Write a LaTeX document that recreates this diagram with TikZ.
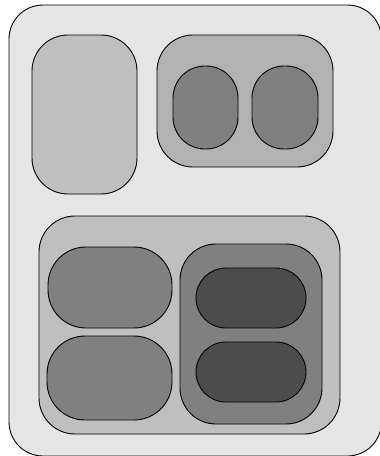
\documentclass[tikz,border=0pt]{standalone}
\begin{document}
\begin{tikzpicture}[x=1pt,y=-1pt,
  box/.style={draw=black, line width=0.9pt, inner sep=0pt, outer sep=0pt}]
\useasboundingbox (0,0) rectangle (380,456);
\node[box, fill=black!10, minimum width=372.5pt, minimum height=451pt, rounded corners=34pt] (outer) at (195.25,230.5) {};
\node[box, fill=black!25, minimum width=105pt, minimum height=159pt, rounded corners=36pt] (left) at (84.5,114.5) {};
\node[box, fill=black!30, minimum width=176pt, minimum height=132pt, rounded corners=36pt] (topgrp) at (245,101) {};
\node[box, fill=black!50, minimum width=65pt, minimum height=83pt, rounded corners=32pt] (p1) at (205.5,107.5) {};
\node[box, fill=black!50, minimum width=66pt, minimum height=83pt, rounded corners=32pt] (p2) at (285,107.5) {};
\node[box, fill=black!25, minimum width=301pt, minimum height=218pt, rounded corners=36pt] (botgrp) at (189.5,325) {};
\node[box, fill=black!50, minimum width=124pt, minimum height=81pt, rounded corners=38pt] (lp1) at (110,287.5) {};
\node[box, fill=black!50, minimum width=125pt, minimum height=84pt, rounded corners=38pt] (lp2) at (109.5,378) {};
\node[box, fill=black!50, minimum width=142pt, minimum height=180pt, rounded corners=36pt] (rsub) at (251,334) {};
\node[box, fill=black!70, minimum width=110pt, minimum height=60pt, rounded corners=30pt] (dp1) at (251,298) {};
\node[box, fill=black!70, minimum width=110pt, minimum height=60pt, rounded corners=30pt] (dp2) at (251,372) {};
\end{tikzpicture}
\end{document}
